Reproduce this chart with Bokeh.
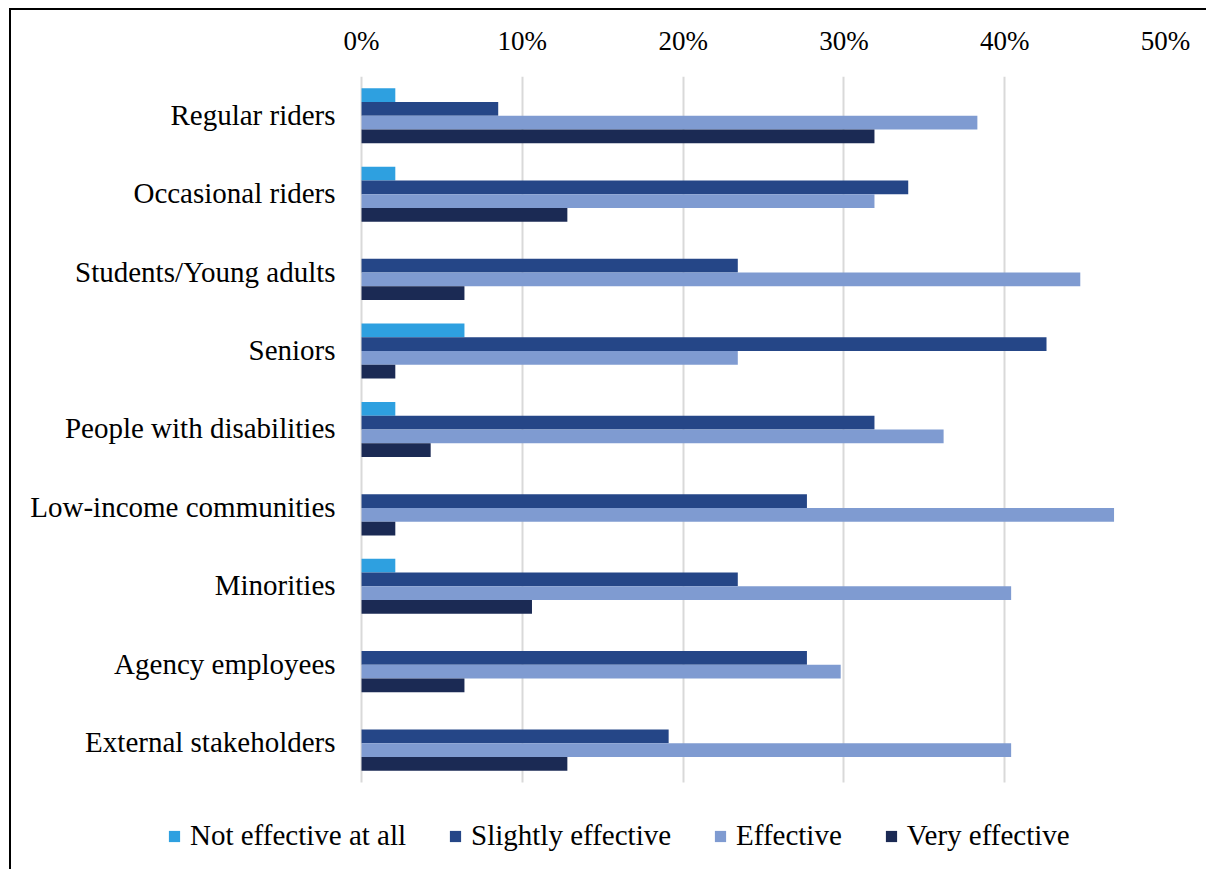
from bokeh.plotting import figure
from bokeh.models import (Range1d, FixedTicker, PrintfTickFormatter,
                          Legend, LegendItem, ColumnDataSource)
from bokeh.core.properties import value
from bokeh.transform import dodge
from bokeh.embed import file_html
from bokeh.resources import INLINE

categories = ["Regular riders", "Occasional riders", "Students/Young adults", "Seniors",
              "People with disabilities", "Low-income communities", "Minorities",
              "Agency employees", "External stakeholders"]
not_effective = [2.1, 2.1, 0.0, 6.4, 2.1, 0.0, 2.1, 0.0, 0.0]
slightly_effective = [8.5, 34.0, 23.4, 42.6, 31.9, 27.7, 23.4, 27.7, 19.1]
effective = [38.3, 31.9, 44.7, 23.4, 36.2, 46.8, 40.4, 29.8, 40.4]
very_effective = [31.9, 12.8, 6.4, 2.1, 4.3, 2.1, 10.6, 6.4, 12.8]
series_names = ["Not effective at all", "Slightly effective", "Effective", "Very effective"]
series_keys = ["not_eff", "slightly", "eff", "very"]
colors = ["#2EA0E0", "#254687", "#7F9BD1", "#1B2A54"]
x_ticks = [0, 10, 20, 30, 40, 50]

n = len(categories)
y_pos = [n - 1 - i for i in range(n)]  # first category at top
label_x = [0] * n

src = ColumnDataSource(dict(cat=categories, y=y_pos, lx=label_x, not_eff=not_effective,
                            slightly=slightly_effective, eff=effective, very=very_effective))

FONT = "Liberation Serif"

p = figure(width=1197, height=861, output_backend="svg", toolbar_location=None,
           y_range=Range1d(n - 0.5 - 10.135, n - 0.5), x_range=Range1d(-21.77, 50),
           x_axis_location="above", y_axis_location=None,
           min_border_left=0, min_border_top=66, min_border_right=43, min_border_bottom=0)
p.outline_line_color = None
p.background_fill_color = "white"
p.border_fill_color = "white"

bar_h = 0.1753
offsets = [1.5 * bar_h, 0.5 * bar_h, -0.5 * bar_h, -1.5 * bar_h]
items = []
for key, name, col, off in zip(series_keys, series_names, colors, offsets):
    r = p.hbar(y=dodge("y", off), left=0, right=key, height=bar_h,
               source=src, fill_color=col, line_color=None)
    items.append(LegendItem(label=name, renderers=[r]))

# category labels
p.text(x="lx", y="y", text="cat", source=src, x_offset=-26, y_offset=-1, text_align="right",
       text_baseline="middle", text_font=value(FONT), text_font_size="29px",
       text_color="black")

p.xaxis.ticker = FixedTicker(ticks=x_ticks)
p.xaxis.formatter = PrintfTickFormatter(format="%d%%")
p.xaxis.axis_line_color = None
p.xaxis.major_tick_line_color = None
p.xaxis.minor_tick_line_color = None
p.xaxis.major_label_text_font = FONT
p.xaxis.major_label_text_font_size = "27px"
p.xaxis.major_label_text_color = "black"
p.xaxis.major_label_standoff = 15

p.xgrid.ticker = FixedTicker(ticks=x_ticks)
p.xgrid.grid_line_color = "#D9D9D9"
p.xgrid.grid_line_width = 2
p.xgrid.cross_bounds = (-0.5, n - 0.5)
p.ygrid.visible = False

legend = Legend(items=items, orientation="horizontal", location=(156, 19),
                glyph_width=14, glyph_height=14, label_standoff=9, spacing=42,
                padding=0, margin=0, border_line_color=None, background_fill_alpha=0,
                label_text_font=FONT, label_text_font_size="29px", label_text_color="black")
p.add_layout(legend, "center")

p.styles = {"margin-left": "9px", "margin-top": "8px",
            "border-left": "2px solid black", "border-top": "2px solid black"}

open("out.html", "w").write(file_html(p, INLINE))
